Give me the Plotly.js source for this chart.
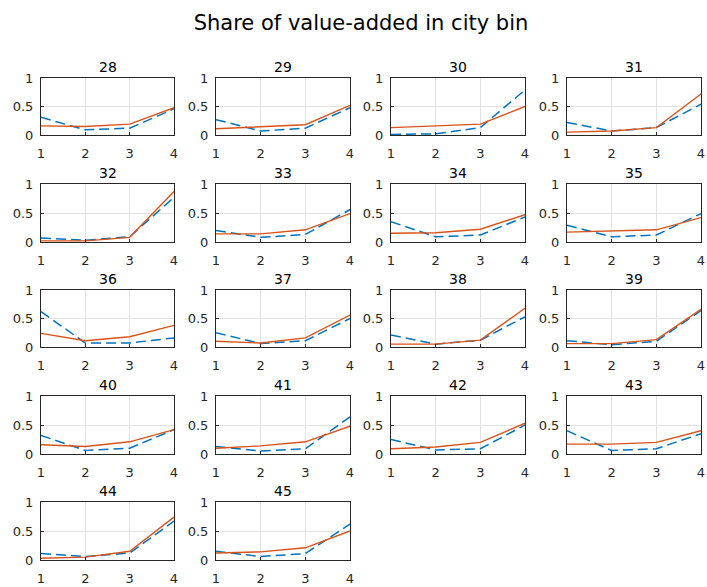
<!DOCTYPE html>
<html>
<head>
<meta charset="utf-8">
<script src="https://cdn.plot.ly/plotly-3.0.1.min.js"></script>
<style>html,body{margin:0;padding:0;background:#fff;}#chart{width:707px;height:587px;}</style>
</head>
<body>
<div id="chart"></div>
<script>
const panelIds = [28,29,30,31,32,33,34,35,36,37,38,39,40,41,42,43,44,45];
const cityBins = [1,2,3,4];
const xTickLabels = ['1','2','3','4'];
const yTickVals = [0,0.5,1];
const yTickLabels = ['0','0.5','1'];
// dashed blue series
const dashedSeries = [
  [0.31,0.09,0.12,0.46],
  [0.27,0.07,0.12,0.48],
  [0.01,0.02,0.13,0.79],
  [0.22,0.07,0.13,0.54],
  [0.07,0.03,0.09,0.77],
  [0.20,0.08,0.13,0.56],
  [0.35,0.09,0.12,0.43],
  [0.29,0.09,0.12,0.49],
  [0.62,0.07,0.07,0.16],
  [0.25,0.06,0.11,0.50],
  [0.21,0.05,0.12,0.53],
  [0.11,0.04,0.10,0.64],
  [0.32,0.06,0.10,0.42],
  [0.13,0.05,0.09,0.64],
  [0.25,0.07,0.09,0.50],
  [0.40,0.06,0.09,0.35],
  [0.11,0.06,0.12,0.67],
  [0.15,0.06,0.11,0.62]
];
// solid orange series
const solidSeries = [
  [0.16,0.15,0.19,0.48],
  [0.11,0.15,0.18,0.52],
  [0.13,0.16,0.19,0.50],
  [0.05,0.07,0.13,0.72],
  [0.02,0.02,0.08,0.87],
  [0.14,0.14,0.21,0.49],
  [0.15,0.16,0.22,0.47],
  [0.17,0.19,0.21,0.42],
  [0.24,0.11,0.18,0.38],
  [0.10,0.07,0.16,0.56],
  [0.05,0.05,0.12,0.68],
  [0.06,0.06,0.13,0.66],
  [0.16,0.13,0.21,0.42],
  [0.10,0.14,0.21,0.48],
  [0.09,0.12,0.20,0.53],
  [0.17,0.17,0.20,0.40],
  [0.03,0.05,0.15,0.74],
  [0.12,0.14,0.21,0.50]
];
const mainTitle = 'Share of value-added in city bin';

const W = 707, H = 587;
const colLeft = [41, 216, 391, 567];
const colRight = [174, 350, 525, 701];
const rowTop = [78, 184, 290, 396, 502];
const rowBottom = [135, 242, 347, 454, 560];
const font = 'DejaVu Sans, Arial, sans-serif';
const axisColor = '#262626';

const data = [];
const layout = {
  width: W, height: H,
  margin: {l:0, r:0, t:0, b:0},
  paper_bgcolor: '#fff', plot_bgcolor: '#fff',
  showlegend: false,
  font: {family: font, color: axisColor, size: 13},
  title: {text: mainTitle, font: {family: font, size: 21, color: '#000'}, x: 361/W, xanchor: 'center', xref: 'paper', y: 1 - 23/H, yanchor: 'middle'},
  annotations: []
};

panelIds.forEach((id, i) => {
  const r = Math.floor(i / 4), c = i % 4;
  const n = i + 1;
  const xa = n === 1 ? 'x' : 'x' + n;
  const ya = n === 1 ? 'y' : 'y' + n;
  data.push({x: cityBins, y: dashedSeries[i], xaxis: xa, yaxis: ya, type: 'scatter', mode: 'lines',
    line: {color: '#0072BD', width: 1.5, dash: '10px,5px'}, hoverinfo: 'skip'});
  data.push({x: cityBins, y: solidSeries[i], xaxis: xa, yaxis: ya, type: 'scatter', mode: 'lines',
    line: {color: '#D95319', width: 1.4}, hoverinfo: 'skip'});
  const common = {
    showline: true, mirror: true, linecolor: axisColor, linewidth: 1,
    ticks: 'inside', ticklen: 3, tickcolor: axisColor,
    showgrid: true, gridcolor: '#e2e2e2', gridwidth: 1,
    zeroline: false, fixedrange: true,
    tickfont: {family: font, size: 13, color: axisColor}
  };
  layout['xaxis' + (n === 1 ? '' : n)] = Object.assign({}, common, {
    domain: [colLeft[c]/W, colRight[c]/W], anchor: ya, range: [1,4],
    tickvals: cityBins, ticktext: xTickLabels, ticklabelstandoff: 6
  });
  layout['yaxis' + (n === 1 ? '' : n)] = Object.assign({}, common, {
    domain: [1 - rowBottom[r]/H, 1 - rowTop[r]/H], anchor: xa, range: [0,1],
    tickvals: yTickVals, ticktext: yTickLabels, ticklabelstandoff: 4
  });
  layout.annotations.push({
    text: String(id), xref: 'paper', yref: 'paper',
    x: (colLeft[c] + colRight[c]) / 2 / W, y: 1 - (rowTop[r] - 11)/H,
    xanchor: 'center', yanchor: 'middle', showarrow: false,
    font: {family: font, size: 14, color: '#000'}
  });
});

Plotly.newPlot('chart', data, layout, {staticPlot: true});
</script>
</body>
</html>
